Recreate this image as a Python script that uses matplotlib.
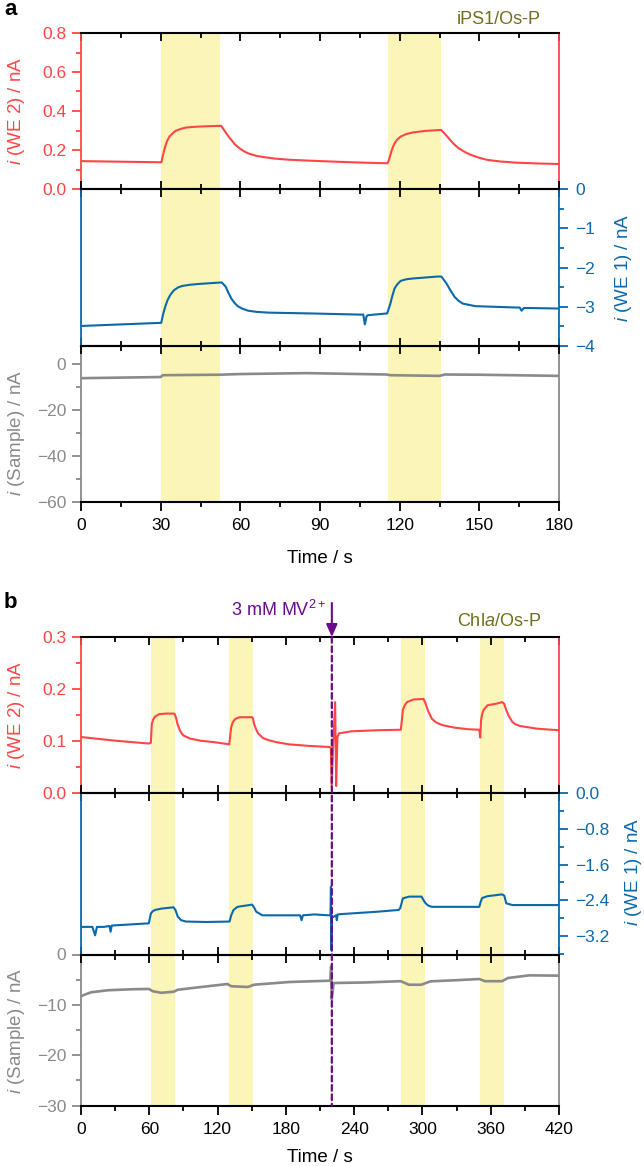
import matplotlib
matplotlib.use('Agg')
import matplotlib.pyplot as plt
from matplotlib.ticker import MultipleLocator, FuncFormatter
from matplotlib.patches import ConnectionPatch

plt.rcParams['font.family'] = ['Liberation Sans', 'DejaVu Sans']
plt.rcParams['mathtext.fontset'] = 'custom'
plt.rcParams['mathtext.rm'] = 'Liberation Sans'
plt.rcParams['mathtext.it'] = 'Liberation Sans:italic'
plt.rcParams['mathtext.default'] = 'regular'

# ---------------- data ----------------
# Panel a (iPS1/Os-P)
a_bands = [(30.3, 52.4), (115.5, 135.6)]
a_we2_t = [0, 15, 30.3, 30.8, 31.7, 32.5, 33.3, 34.5, 35.6, 37.5, 39.5, 42, 44.2, 48, 52.8,
           53.5, 54.5, 55.5, 56.6, 58, 59.7, 61.3, 62.9, 66, 69.1, 73, 78.4, 85, 94, 102,
           109.5, 115.4, 116.0, 116.5, 117.3, 118.1, 119.2, 120.4, 122.5, 125, 129.7, 135.6, 136.4, 137.2, 139,
           140.6, 142.2, 144.5, 146.8, 150, 153.1, 158, 164, 172, 180]
a_we2_v = [0.143, 0.140, 0.137, 0.170, 0.218, 0.248, 0.269, 0.285, 0.298, 0.308, 0.315, 0.318, 0.320, 0.322, 0.324,
           0.310, 0.290, 0.270, 0.252, 0.228, 0.209, 0.194, 0.183, 0.170, 0.163, 0.156, 0.150, 0.146, 0.141, 0.137,
           0.134, 0.132, 0.150, 0.175, 0.210, 0.235, 0.255, 0.269, 0.282, 0.290, 0.298, 0.303, 0.292, 0.280, 0.252,
           0.228, 0.209, 0.190, 0.175, 0.160, 0.149, 0.141, 0.135, 0.131, 0.128]
a_we1_t = [0, 15, 30.2, 31, 31.8, 32.6, 33.7, 35, 36.5, 38.1, 41, 44.2, 53, 54.5, 55.5,
           56.6, 57.8, 59, 60.8, 62.9, 66, 70.7, 86.3, 105, 106.3, 106.9, 107.5, 108, 115.3, 116.5,
           117.3, 118.1, 119.2, 120.4, 122.5, 125, 134.4, 135.7, 137.6, 139.2, 140.7, 142.2, 143.8, 148.5, 164,
           165.2, 165.9, 166.8, 180]
a_we1_v = [-3.49, -3.45, -3.41, -3.17, -2.98, -2.83, -2.69, -2.58, -2.51, -2.47, -2.44, -2.42, -2.38, -2.49, -2.64,
           -2.79, -2.90, -2.985, -3.05, -3.10, -3.13, -3.15, -3.17, -3.20, -3.20, -3.45, -3.25, -3.215, -3.17, -2.92,
           -2.71, -2.53, -2.42, -2.34, -2.30, -2.28, -2.23, -2.23, -2.405, -2.59, -2.75, -2.85, -2.92, -2.985, -3.02,
           -3.02, -3.10, -3.03, -3.045]
a_s_t = [0, 30, 30.8, 52, 60, 85, 115, 116.5, 135, 137, 150, 180]
a_s_v = [-6.0, -5.5, -4.7, -4.5, -4.2, -3.8, -4.4, -4.7, -5.0, -4.4, -4.5, -5.0]

# Panel b (Chla/Os-P)
b_bands = [(61.3, 82.4), (130.3, 151.4), (281.0, 302.1), (350.8, 371.8)]
mv_time = 220.4
b_we2_t = [0, 30, 59.6, 61.4, 62.2, 63.5, 65, 68.6, 75, 81.3, 82.4, 83.5, 84.8, 86.8, 88.5,
           90, 95.8, 105, 117.6, 130.3, 131.2, 132, 133.5, 135.7, 139.4, 150.3, 151.2, 152, 153.8, 155.7,
           158, 160, 164.7, 172, 182.9, 200, 217.4, 219.5, 220.3, 221.5, 223.3, 224.2, 225.3, 226.6, 237.5,
           260, 281, 282.0, 282.8, 284.5, 286.5, 291.9, 301, 302.8, 305, 308.3, 312, 317.3, 328.2, 340,
           350, 350.8, 351.5, 352.5, 353.7, 357.3, 365, 370, 371.8, 373.6, 376, 379, 382, 386.3, 400.8,
           420]
b_we2_v = [0.108, 0.101, 0.0955, 0.097, 0.133, 0.142, 0.147, 0.152, 0.153, 0.153, 0.152, 0.145, 0.133, 0.121, 0.115,
           0.111, 0.105, 0.101, 0.098, 0.094, 0.112, 0.127, 0.137, 0.143, 0.146, 0.146, 0.143, 0.134, 0.123, 0.115,
           0.110, 0.106, 0.102, 0.098, 0.094, 0.091, 0.089, 0.088, 0.012, 0.090, 0.175, 0.014, 0.108, 0.115, 0.119,
           0.121, 0.122, 0.142, 0.160, 0.169, 0.175, 0.180, 0.181, 0.172, 0.158, 0.143, 0.136, 0.131, 0.126, 0.123,
           0.122, 0.107, 0.140, 0.152, 0.160, 0.169, 0.172, 0.175, 0.172, 0.160, 0.148, 0.137, 0.132, 0.129, 0.124,
           0.121]
b_we1_t = [0, 10, 12.4, 14, 20, 25, 26, 27, 40, 59.6, 61.4, 63, 65, 70.5, 81.3,
           83, 85, 88, 92.3, 110, 130.5, 132, 134, 137.5, 150.3, 152, 154, 159.4, 183, 192.5,
           193.8, 195, 205, 217.4, 219.2, 219.6, 220.0, 220.5, 221.5, 224, 224.8, 225.5, 230, 260, 279,
           280.5, 282.8, 288.3, 299.2, 301, 302.8, 305, 308.3, 330, 350, 351, 352.5, 357.3, 370, 372,
           373.6, 379, 400, 420]
b_we1_v = [-3.00, -3.00, -3.19, -3.00, -3.00, -2.98, -3.11, -2.97, -2.95, -2.92, -2.70, -2.65, -2.62, -2.59, -2.56,
           -2.62, -2.77, -2.85, -2.88, -2.89, -2.88, -2.74, -2.62, -2.55, -2.50, -2.56, -2.66, -2.74, -2.74, -2.74,
           -2.85, -2.74, -2.72, -2.74, -2.74, -2.10, -3.52, -2.75, -2.78, -2.74, -2.85, -2.72, -2.71, -2.66, -2.62,
           -2.58, -2.36, -2.32, -2.32, -2.40, -2.47, -2.52, -2.55, -2.55, -2.55, -2.45, -2.35, -2.31, -2.27, -2.30,
           -2.47, -2.51, -2.51, -2.51]
b_s_t = [0, 4, 9, 23.5, 45, 59.6, 63.2, 70.5, 81.3, 85, 100, 128.6, 132, 146.6, 152,
         183, 219, 219.8, 220.3, 222, 250, 281, 288, 299, 307, 330, 350, 355, 370, 375,
         394, 420]
b_s_v = [-8.3, -7.9, -7.5, -7.1, -6.9, -6.84, -7.3, -7.6, -7.4, -7.0, -6.6, -5.86, -6.3, -6.45, -6.0,
         -5.46, -5.2, -2.4, -8.9, -5.66, -5.55, -5.3, -6.0, -6.0, -5.33, -5.1, -4.87, -5.3, -5.3, -4.67,
         -4.14, -4.2]

# ---------------- style ----------------
RED = '#ff4545'
BLUE = '#0a69aa'
GRAY = '#8a8a8a'
YEL = '#fbf5b7'
OLIVE = '#6e6e1c'
PURPLE = '#6c0a8e'
TICK_FS = 12.5
LAB_FS = 13.5

W, H = 644, 1166
fig = plt.figure(figsize=(W / 100, H / 100), dpi=100)


def add_ax(x0, y0, x1, y1, z):
    ax = fig.add_axes([x0 / W, 1 - y1 / H, (x1 - x0) / W, (y1 - y0) / H])
    ax.patch.set_visible(False)
    ax.set_zorder(z)
    return ax


def fmt(dec):
    def f(v, pos):
        if abs(v) < 1e-9:
            v = 0.0
        return f'{v:.{dec}f}'.replace('-', '\u2212')
    return FuncFormatter(f)


def ftext(x, y, s, **kw):
    fig.text(x / W, 1 - y / H, s, **kw)


def build(top, mid, bot, xmax, xmaj, xmin, t2, v2, t1, v1, ts, vs, bands,
          y2lim, y2maj, y2min, y2dec, y1lim, y1maj, y1min, y1dec, yslim, ysmaj, ysmin):
    ax2 = add_ax(81, top, 559, mid[0], 1)
    ax1 = add_ax(81, mid[0], 559, mid[1], 3)
    axs = add_ax(81, mid[1], 559, bot, 2)
    for ax, col in ((ax2, RED), (ax1, BLUE), (axs, GRAY)):
        ax.set_xlim(0, xmax)
        ax.xaxis.set_major_locator(MultipleLocator(xmaj))
        ax.xaxis.set_minor_locator(MultipleLocator(xmin))
        for b0, b1 in bands:
            ax.axvspan(b0, b1, color=YEL, lw=0, zorder=0)
        for s in ('top', 'bottom'):
            ax.spines[s].set_color('black')
            ax.spines[s].set_linewidth(1.5)
        for s in ('left', 'right'):
            ax.spines[s].set_color(col)
            ax.spines[s].set_linewidth(1.3)
    ax2.plot(t2, v2, color=RED, lw=1.5)
    ax1.plot(t1, v1, color=BLUE, lw=1.5)
    axs.plot(ts, vs, color=GRAY, lw=1.9)

    # x ticks
    ax2.tick_params(axis='x', which='both', direction='in', top=True, bottom=False,
                    labelbottom=False, labeltop=False, color='black', width=1.3)
    ax2.tick_params(axis='x', which='major', length=6)
    ax2.tick_params(axis='x', which='minor', length=3.5)
    ax1.tick_params(axis='x', which='both', direction='inout', top=True, bottom=True,
                    labelbottom=False, labeltop=False, color='black', width=1.3)
    ax1.tick_params(axis='x', which='major', length=12)
    ax1.tick_params(axis='x', which='minor', length=7)
    axs.tick_params(axis='x', which='both', direction='out', top=False, bottom=True,
                    labelbottom=True, color='black', width=1.3, labelsize=TICK_FS, pad=5)
    axs.tick_params(axis='x', which='major', length=6.5)
    axs.tick_params(axis='x', which='minor', length=3.5)

    # y axes
    ax2.set_ylim(*y2lim)
    ax2.yaxis.set_major_locator(MultipleLocator(y2maj))
    ax2.yaxis.set_minor_locator(MultipleLocator(y2min))
    ax2.yaxis.set_major_formatter(fmt(y2dec))
    ax2.tick_params(axis='y', which='both', direction='out', left=True, right=False,
                    colors=RED, width=1.3, labelsize=TICK_FS, pad=4)
    ax2.tick_params(axis='y', which='major', length=6.5)
    ax2.tick_params(axis='y', which='minor', length=3.5)

    ax1.set_ylim(*y1lim)
    ax1.yaxis.set_major_locator(MultipleLocator(y1maj))
    ax1.yaxis.set_minor_locator(MultipleLocator(y1min))
    ax1.yaxis.set_major_formatter(fmt(y1dec))
    ax1.tick_params(axis='y', which='both', direction='out', left=False, right=True,
                    labelleft=False, labelright=True, colors=BLUE, width=1.3,
                    labelsize=TICK_FS, pad=5)
    ax1.tick_params(axis='y', which='major', length=6.5)
    ax1.tick_params(axis='y', which='minor', length=3.5)

    axs.set_ylim(*yslim)
    axs.yaxis.set_major_locator(MultipleLocator(ysmaj))
    axs.yaxis.set_minor_locator(MultipleLocator(ysmin))
    axs.yaxis.set_major_formatter(fmt(0))
    axs.tick_params(axis='y', which='both', direction='out', left=True, right=False,
                    colors=GRAY, width=1.3, labelsize=TICK_FS, pad=4)
    axs.tick_params(axis='y', which='major', length=6.5)
    axs.tick_params(axis='y', which='minor', length=3.5)
    return ax2, ax1, axs


# Panel a
a2, a1, a_s = build(33, (189, 346), 502.3, 180, 30, 15,
                    a_we2_t, a_we2_v, a_we1_t, a_we1_v, a_s_t, a_s_v, a_bands,
                    (0, 0.8), 0.2, 0.1, 1, (-4, 0), 1, 0.5, 0, (-60, 8), 20, 10)
# Panel b
b2, b1, b_s = build(637, (793.3, 954.5), 1105.6, 420, 60, 30,
                    b_we2_t, b_we2_v, b_we1_t, b_we1_v, b_s_t, b_s_v, b_bands,
                    (0, 0.3), 0.1, 0.05, 1, (-3.62, 0), 0.8, 0.4, 1, (-30, 0), 10, 5)

# MV2+ addition marker
con = ConnectionPatch(xyA=(mv_time, 0.3), coordsA=b2.transData,
                      xyB=(mv_time, -30), coordsB=b_s.transData,
                      color=PURPLE, lw=1.6, ls=(0, (2.6, 1.6)), zorder=10)
fig.add_artist(con)
b2.annotate('', xy=(mv_time, 0.3), xycoords='data', xytext=(0, 24.5),
            textcoords='offset points', annotation_clip=False,
            arrowprops=dict(arrowstyle='-|>,head_length=0.75,head_width=0.33',
                            mutation_scale=10, color=PURPLE, lw=1.5,
                            shrinkA=0, shrinkB=0))
ftext(326, 615.7, '3 mM MV$^{2+}$', color=PURPLE, fontsize=13, ha='right', va='baseline')

# Panel letters & titles
ftext(4, 15, 'a', fontsize=16, fontweight='bold', ha='left', va='baseline')
ftext(4, 608, 'b', fontsize=16, fontweight='bold', ha='left', va='baseline')
ftext(541, 24, 'iPS1/Os-P', color=OLIVE, fontsize=13, ha='right', va='baseline')
ftext(541, 626, 'Chl$\\mathit{a}$/Os-P', color=OLIVE, fontsize=13, ha='right', va='baseline')

# Axis labels
for yc, s, c in ((111, '$\\mathit{i}$ (WE 2) / nA', RED), (433, '$\\mathit{i}$ (Sample) / nA', GRAY),
                 (715, '$\\mathit{i}$ (WE 2) / nA', RED), (1031, '$\\mathit{i}$ (Sample) / nA', GRAY)):
    ftext(17, yc, s, color=c, fontsize=LAB_FS, rotation=90, ha='center', va='center')
ftext(623, 267.5, '$\\mathit{i}$ (WE 1) / nA', color=BLUE, fontsize=LAB_FS, rotation=90,
      ha='center', va='center')
ftext(633, 872, '$\\mathit{i}$ (WE 1) / nA', color=BLUE, fontsize=LAB_FS, rotation=90,
      ha='center', va='center')
ftext(320, 563, 'Time / s', fontsize=LAB_FS, ha='center', va='baseline')
ftext(320, 1162, 'Time / s', fontsize=LAB_FS, ha='center', va='baseline')

fig.savefig('out.png', dpi=100)
